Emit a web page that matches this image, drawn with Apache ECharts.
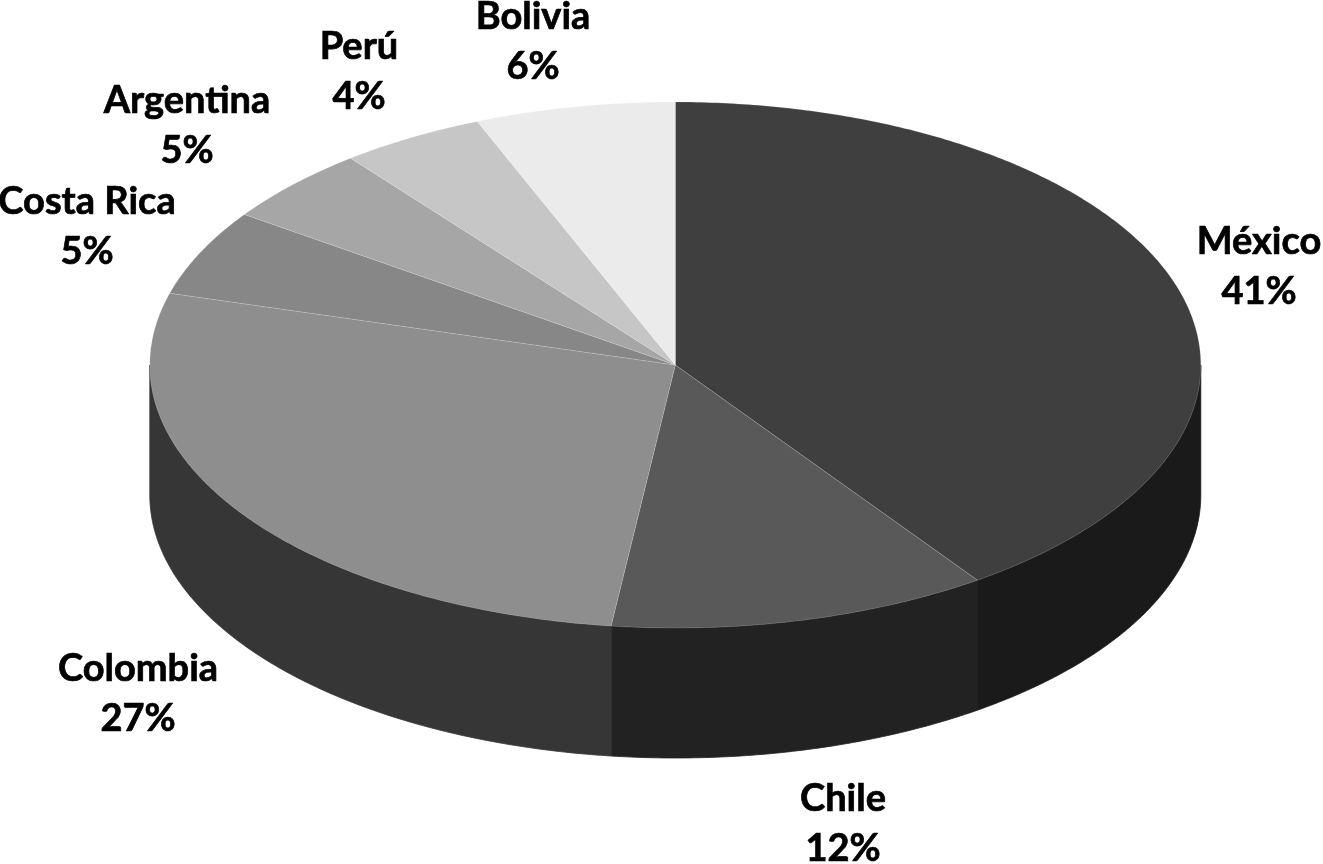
<!DOCTYPE html>
<html>
<head>
<meta charset="utf-8">
<style>
  html, body { margin: 0; padding: 0; background: #fff; }
  #main { width: 1323px; height: 864px; }
</style>
<script src="https://cdn.jsdelivr.net/npm/echarts@6/dist/echarts.min.js"></script>
</head>
<body>
<div id="main"></div>
<script>
var categories = ["México", "Chile", "Colombia", "Costa Rica", "Argentina", "Perú", "Bolivia"];
// share of the circle each slice takes in the picture
var sliceValues = [40.25, 11.7, 27.45, 5.3, 4.7, 4.45, 6.15];
// percentages as printed on the labels
var percentLabels = [41, 12, 27, 5, 5, 4, 6];

var topColors = ["#3f3f3f", "#595959", "#8e8e8e", "#878787", "#a6a6a6", "#c6c6c6", "#ebebeb"];
var sideColors = ["#1a1a1a", "#222222", "#363636", "#363636", "#363636", "#363636", "#363636"];
var labelCenters = [[1259, 267], [843, 824], [138, 694], [87, 227], [187, 126], [359, 72], [533, 42]];

var cx = 675.3, cy = 365, rx = 525.5, ry = 263, depth = 130;
var total = sliceValues.reduce(function (a, b) { return a + b; }, 0);

// angle is measured clockwise from the top of the pie
function rimPoint (a, drop) {
  return [cx + rx * Math.sin(a), cy - ry * Math.cos(a) + (drop || 0)];
}

function rimArc (from, to, drop) {
  var pts = [];
  var n = Math.max(2, Math.ceil(Math.abs(to - from) / 0.01));
  for (var i = 0; i <= n; i++) {
    pts.push(rimPoint(from + (to - from) * i / n, drop));
  }
  return pts;
}

var seriesData = [];
var running = 0;
categories.forEach(function (name, i) {
  seriesData.push({ name: name, value: [running, sliceValues[i], percentLabels[i]] });
  running += sliceValues[i];
});

function renderItem (params, api) {
  var i = params.dataIndex;
  var start = api.value(0) / total * Math.PI * 2;
  var end = (api.value(0) + api.value(1)) / total * Math.PI * 2;
  var children = [];

  // wall: only the part of the rim facing the viewer
  var wallFrom = Math.max(start, Math.PI / 2);
  var wallTo = Math.min(end, Math.PI * 1.5);
  if (wallTo > wallFrom) {
    var wall = rimArc(wallFrom, wallTo, 0).concat(rimArc(wallTo, wallFrom, depth));
    children.push({
      type: "polygon",
      z2: 1,
      shape: { points: wall },
      // same colour stroke closes the seam between neighbouring walls
      style: { fill: sideColors[i], stroke: sideColors[i], lineWidth: 0.8 }
    });
  }

  // top face, with the faint light edge between slices
  var top = [[cx, cy]].concat(rimArc(start, end, 0));
  children.push({
    type: "polygon",
    z2: 2,
    shape: { points: top },
    style: { fill: topColors[i], stroke: "rgba(255,255,255,0.18)", lineWidth: 0.8 }
  });

  // label
  children.push({
    type: "text",
    z2: 3,
    style: {
      x: labelCenters[i][0],
      y: labelCenters[i][1],
      text: categories[i] + "\n" + api.value(2) + "%",
      fill: "#000",
      stroke: "#000",
      lineWidth: 0.7,
      font: "bold 38px Lato",
      lineHeight: 50,
      align: "center",
      verticalAlign: "middle"
    }
  });
  return { type: "group", children: children };
}

var myChart = echarts.init(document.getElementById("main"), null, { renderer: "canvas" });
myChart.setOption({
  animation: false,
  backgroundColor: "#fff",
  series: [{
    type: "custom",
    coordinateSystem: "none",
    renderItem: renderItem,
    data: seriesData
  }]
});
</script>
</body>
</html>
